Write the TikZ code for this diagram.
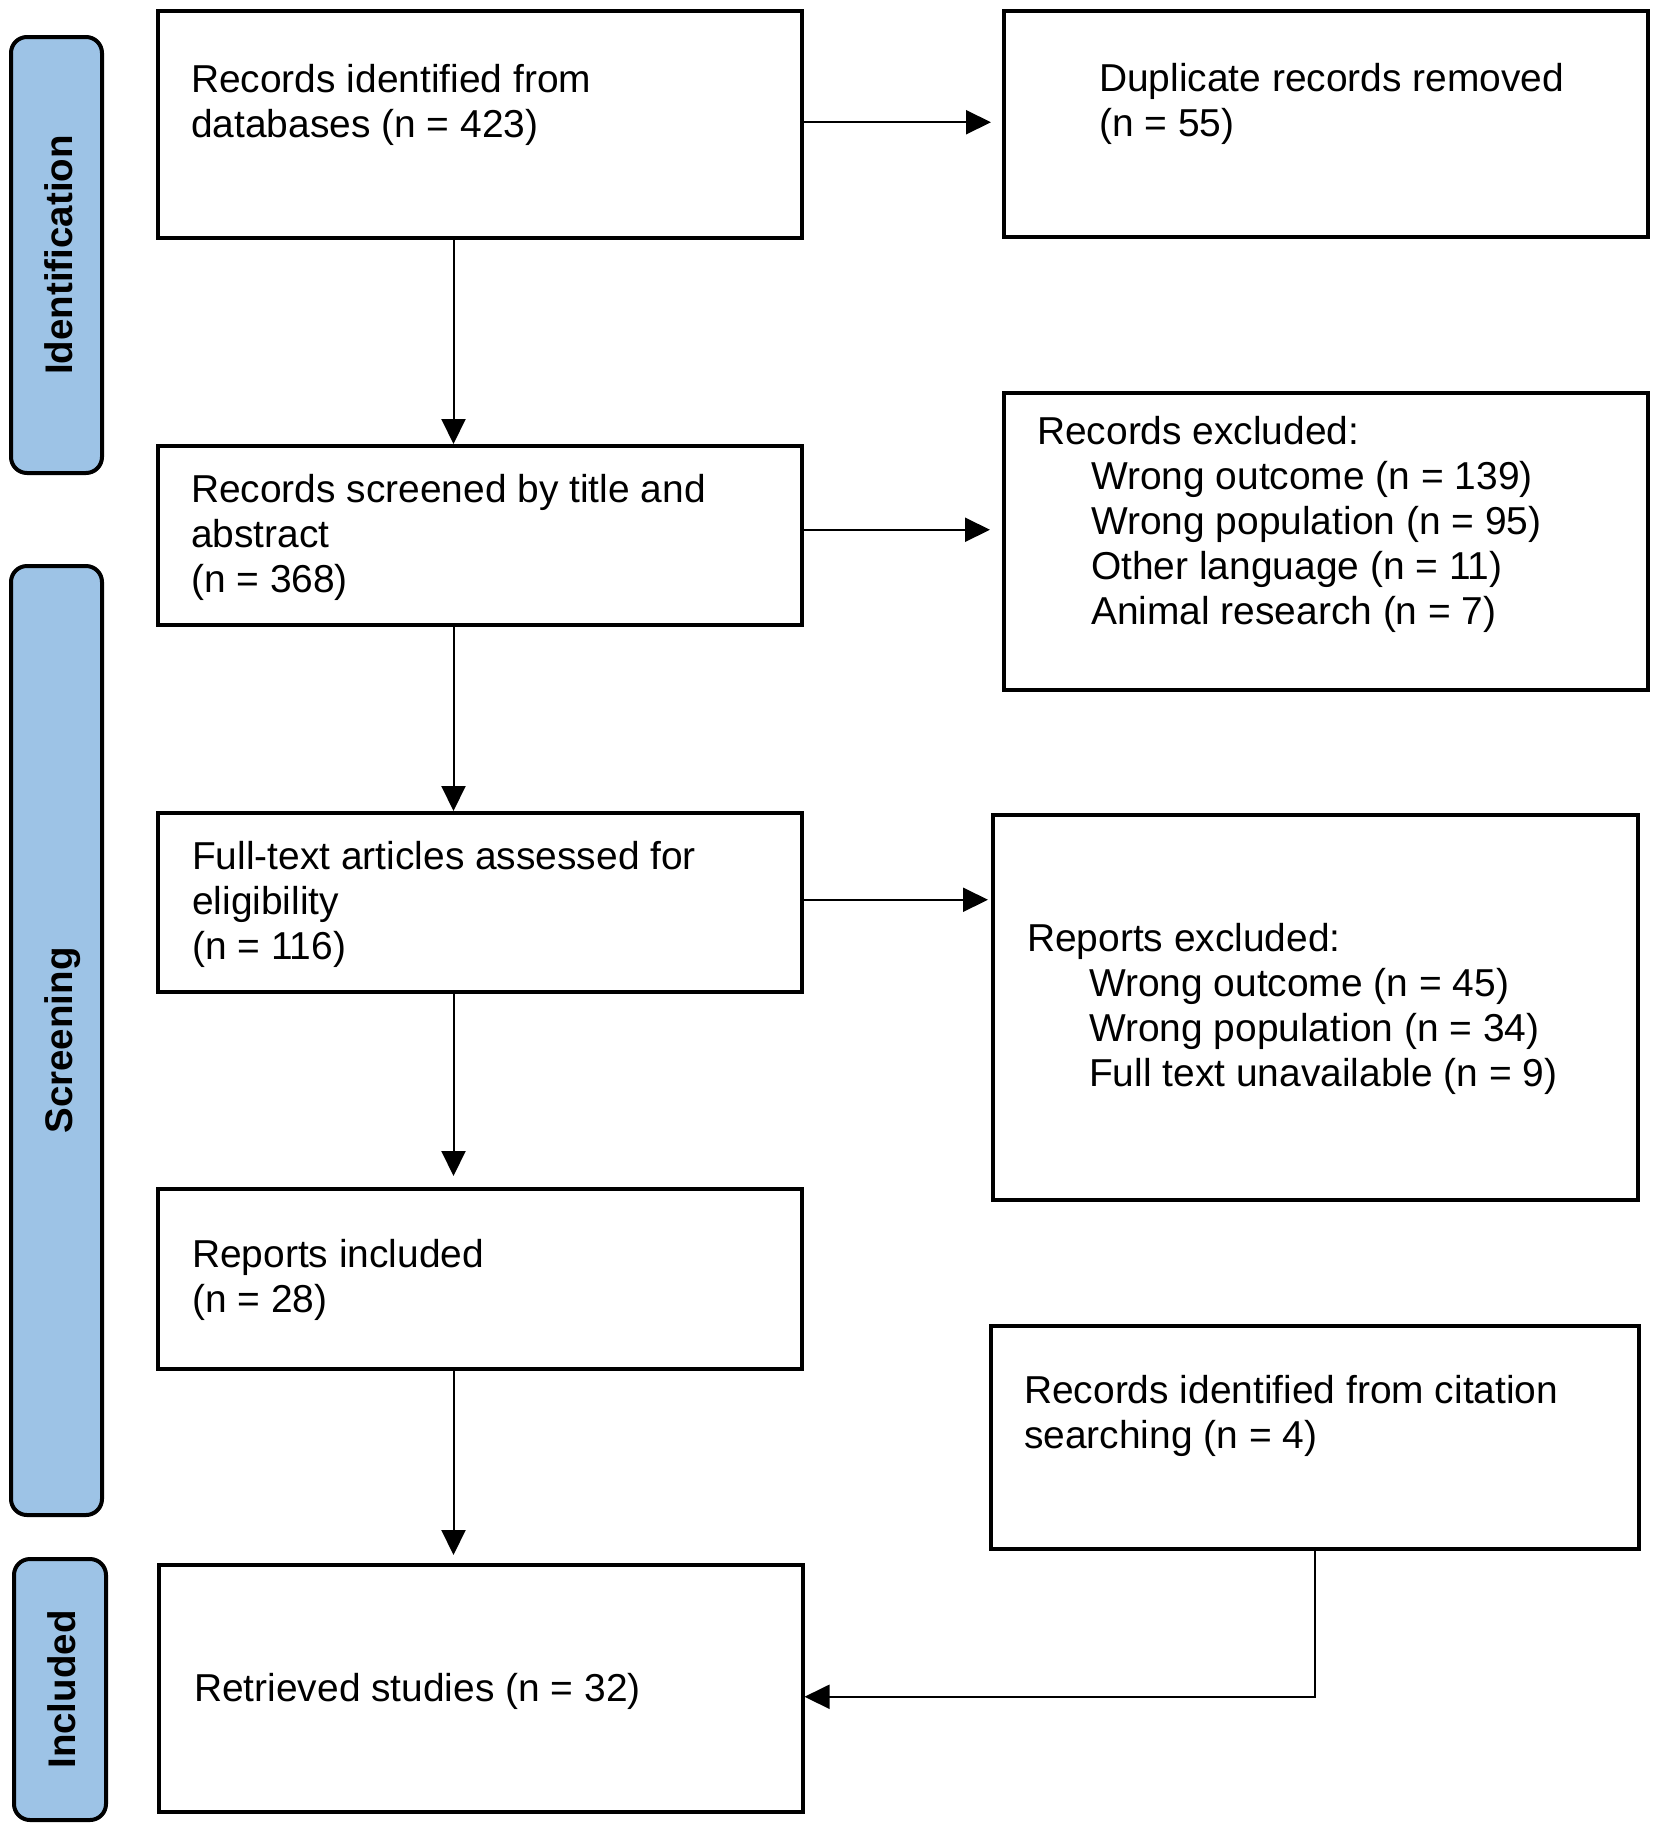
\documentclass[tikz,border=0pt]{standalone}
\usepackage{fontspec}
\setmainfont{Liberation Sans}
\usetikzlibrary{arrows.meta}
\definecolor{barblue}{RGB}{157,195,230}
\begin{document}
\begin{tikzpicture}[x=1pt,y=-1pt,
  box/.style={draw, line width=3.5pt, inner sep=0pt, anchor=north west},
  txt/.style={anchor=base west, align=left, inner sep=0pt, font=\fontsize{38.9pt}{45pt}\selectfont},
  bar/.style={draw, line width=4pt, fill=barblue, rounded corners=16pt, inner sep=0pt, anchor=north west},
  barlabel/.style={rotate=90, anchor=base, inner sep=0pt, font=\fontsize{38.5pt}{44pt}\selectfont\bfseries},
  arr/.style={-{Triangle[length=25pt,width=24pt]}, line width=2pt}
]
\useasboundingbox (0,0) rectangle (1654,1826);

% side bars
\node[bar, minimum width=91pt, minimum height=436pt] (sid) at (9,35) {};
\node[bar, minimum width=91pt, minimum height=949pt] (sscr) at (9,564) {};
\node[bar, minimum width=92pt, minimum height=261pt] (sinc) at (12,1557) {};
\node[barlabel] (lid) at ([xshift=15.5pt]sid.center) {Identification};
\node[barlabel] (lscr) at ([xshift=15.5pt]sscr.center) {Screening};
\node[barlabel] (linc) at ([xshift=15.5pt]sinc.center) {Included};

% boxes
\node[box, minimum width=644pt, minimum height=227pt] (b1) at (156,9) {};
\node[box, minimum width=644pt, minimum height=226pt] (b2) at (1002,9) {};
\node[box, minimum width=644pt, minimum height=179pt] (b3) at (156,444) {};
\node[box, minimum width=644pt, minimum height=297pt] (b4) at (1002,391) {};
\node[box, minimum width=644pt, minimum height=179pt] (b5) at (156,811) {};
\node[box, minimum width=645pt, minimum height=385pt] (b6) at (991,813) {};
\node[box, minimum width=644pt, minimum height=180pt] (b7) at (156,1187) {};
\node[box, minimum width=648pt, minimum height=223pt] (b8) at (989,1324) {};
\node[box, minimum width=644pt, minimum height=247pt] (b9) at (157,1563) {};

% texts (anchor = baseline of the last line)
\node[txt] (t1) at (191,137) {Records identified from\\databases (n = 423)};
\node[txt] (t2) at (1099,136) {Duplicate records removed\\(n = 55)};
\node[txt] (t3) at (191,592) {Records screened by title and\\abstract\\(n = 368)};
\node[txt] (t4) at (1037,624) {Records excluded:\\\hspace*{54pt}Wrong outcome (n = 139)\\\hspace*{54pt}Wrong population (n = 95)\\\hspace*{54pt}Other language (n = 11)\\\hspace*{54pt}Animal research (n = 7)};
\node[txt] (t5) at (192,959) {Full-text articles assessed for\\eligibility\\(n = 116)};
\node[txt] (t6) at (1027,1086) {Reports excluded:\\\hspace*{62pt}Wrong outcome (n = 45)\\\hspace*{62pt}Wrong population (n = 34)\\\hspace*{62pt}Full text unavailable (n = 9)};
\node[txt] (t7) at (192,1312) {Reports included\\(n = 28)};
\node[txt] (t8) at (1024,1448) {Records identified from citation\\searching (n = 4)};
\node[txt] (t9) at (194,1701) {Retrieved studies (n = 32)};

% connectors
\coordinate (col) at (453.5,0);
\draw[arr, shorten >=11pt] ([yshift=2pt]b1.east) -- ([yshift=2pt]b1.east -| b2.west);
\draw[arr] (b1.south -| col) -- (b3.north -| col);
\draw[arr, shorten >=12pt] ([yshift=5.5pt]b3.east) -- ([yshift=5.5pt]b3.east -| b4.west);
\draw[arr] (b3.south -| col) -- (b5.north -| col);
\draw[arr, shorten >=3pt] ([yshift=2.5pt]b5.east) -- ([yshift=2.5pt]b5.east -| b6.west);
\draw[arr, shorten >=11pt] (b5.south -| col) -- (b7.north -| col);
\draw[arr, shorten >=8pt] (b7.south -| col) -- (b9.north -| col);
\draw[arr] (b8.south) |- ([yshift=-8.5pt]b9.east);
\end{tikzpicture}
\end{document}
